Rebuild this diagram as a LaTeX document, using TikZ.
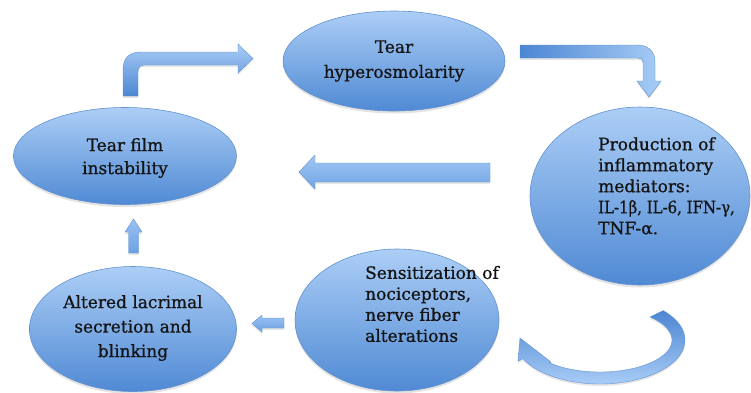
\documentclass[tikz,border=0pt]{standalone}
\usepackage{fontspec}
\setmainfont{DejaVu Serif}
\newfontfamily\txtfont{DejaVu Serif}[FakeBold=0.8]
\usetikzlibrary{shapes.geometric,shadows}
\definecolor{elltop}{RGB}{172,206,246}
\definecolor{ellbot}{RGB}{80,138,212}
\definecolor{ellline}{RGB}{98,146,208}
\definecolor{txtcol}{RGB}{20,20,20}
\definecolor{arrdark}{RGB}{76,134,210}
\definecolor{arrlight}{RGB}{168,204,246}
\definecolor{arrmid}{RGB}{122,172,234}
\begin{document}
\begin{tikzpicture}[x=1pt,y=-1pt,
  bubble/.style={ellipse, draw=ellline, line width=0.6pt, top color=elltop, bottom color=ellbot, inner sep=0pt,
    drop shadow={opacity=0.22, shadow xshift=0pt, shadow yshift=-2.5pt}},
  txt/.style={font=\txtfont\fontsize{17}{21}\selectfont, text=txtcol, inner sep=0pt},
  blockarrow/.style={draw=ellline, line width=0.4pt,
    drop shadow={opacity=0.2, shadow xshift=0pt, shadow yshift=-2pt}}]
\useasboundingbox (0,0) rectangle (751,392);

% ellipses
\node[bubble, minimum width=222pt, minimum height=100pt] (hyper) at (394,61) {};
\node[bubble, minimum width=223pt, minimum height=97pt] (film) at (125,156) {};
\node[bubble, minimum width=220pt, minimum height=178pt] (prod) at (640,196) {};
\node[bubble, minimum width=207pt, minimum height=125pt] (alter) at (133,329) {};
\node[bubble, minimum width=204pt, minimum height=142pt] (sens) at (397,320) {};

% texts
\node[txt, align=center, font=\txtfont\fontsize{17}{25}\selectfont] (hypert) at (394,61) {Tear\\hyperosmolarity};
\node[txt, align=center, font=\txtfont\fontsize{17}{23}\selectfont] (filmt) at (125,158) {Tear film\\instability};
\node[txt, align=left, anchor=west] (prodt) at (598,186) {Production of\\inflammatory\\mediators:\\{\addfontfeatures{FakeStretch=0.88}IL-1β, IL-6, IFN-γ,}\\TNF-α.};
\node[txt, align=center, font=\txtfont\fontsize{17}{24.5}\selectfont] (altert) at (133,328) {Altered lacrimal\\secretion and\\blinking};
\node[txt, align=left, anchor=west] (senst) at (365,304) {Sensitization of\\nociceptors,\\nerve fiber\\alterations};

% bent arrow: film -> hyper
\draw[blockarrow, top color=arrlight, bottom color=arrdark]
  (123,96) -- (123,70) .. controls (123,58) and (129,52) .. (141,52) -- (238,52) -- (238,44) -- (253,58.5)
  -- (238,73) -- (238,65) -- (145,65) .. controls (140,65) and (138,67) .. (138,72) -- (138,96) -- cycle;

% bent arrow: hyper -> prod
\draw[blockarrow, left color=arrdark, right color=arrlight]
  (520,45) -- (637,45) .. controls (648,45) and (655,51) .. (655,62) -- (655,81) -- (661,81) -- (649,97)
  -- (637,81) -- (643,81) -- (643,62) .. controls (643,59) and (641,58) .. (638,58) -- (520,58) -- cycle;

% big left arrow: prod -> film
\draw[blockarrow, top color=arrlight!85!arrmid, bottom color=arrmid!80!arrdark]
  (490,163) -- (315,163) -- (315,155) -- (299,172) -- (315,189) -- (315,182) -- (490,182) -- cycle;

% small up arrow: alter -> film
\draw[blockarrow, top color=arrlight!70!arrmid, bottom color=arrmid!70!arrdark]
  (128.5,253) -- (128.5,232) -- (125,232) -- (133.5,219) -- (142,232) -- (138.5,232) -- (138.5,253) -- cycle;

% small left arrow: sens -> alter
\draw[blockarrow, top color=arrlight!70!arrmid, bottom color=arrmid!70!arrdark]
  (284,318) -- (262,318) -- (262,315) -- (252,323.5) -- (262,332) -- (262,328) -- (284,328) -- cycle;

% curved arrow: prod -> sens
\draw[blockarrow, top color=arrdark, bottom color=arrlight]
  plot[domain=42:-155, samples=60] ({600+85*cos(\x)},{340-44*sin(\x)})
  -- (518,361) -- (520,338) -- (551,362)
  -- plot[domain=-135:46, samples=60] ({600+72*cos(\x)},{340-32*sin(\x)}) -- cycle;
\end{tikzpicture}
\end{document}
